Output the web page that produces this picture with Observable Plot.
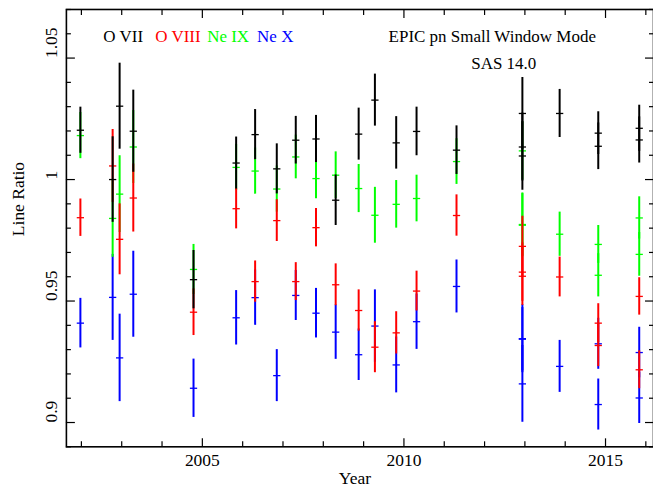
<!DOCTYPE html>
<html><head><meta charset="utf-8">
<script src="https://cdn.jsdelivr.net/npm/d3@7"></script>
<script src="https://cdn.jsdelivr.net/npm/@observablehq/plot@0.6"></script>
<style>
html,body{margin:0;padding:0;overflow:hidden;background:#fff;}
</style></head><body><div id="chart"></div>
<script>
// Observation epochs (decimal year)
const years = [2001.975, 2002.775, 2002.948, 2003.287, 2004.781, 2005.838, 2006.309, 2006.846,
  2007.317, 2007.819, 2008.307, 2008.877, 2009.280, 2009.808, 2010.313, 2011.304,
  2012.938, 2012.938, 2012.938, 2013.862, 2014.820, 2014.820, 2015.836, 2015.836];

const oviiVal = [1.0203, 1.0000, 1.0302, 1.0199, 0.9588, 1.0068, 1.0185, 1.0044,
  1.0162, 1.0167, 0.9915, 1.0187, 1.0327, 1.0151, 1.0198, 1.0121,
  1.0272, 1.0134, 1.0097, 1.0272, 1.0191, 1.0137, 1.0211, 1.0163];
const oviiErr = [0.0095, 0.0176, 0.0177, 0.0169, 0.0120, 0.0107, 0.0103, 0.0103,
  0.0098, 0.0097, 0.0104, 0.0107, 0.0107, 0.0108, 0.0100, 0.0100,
  0.0148, 0.0140, 0.0141, 0.0099, 0.0088, 0.0096, 0.0095, 0.0095];

const oviiiVal = [0.9843, 1.0056, 0.9754, 0.9924, 0.9454, 0.9880, 0.9580, 0.9831,
  0.9580, 0.9802, 0.9567, 0.9461, 0.9310, 0.9369, 0.9541, 0.9852,
  0.9725, 0.9619, 0.9602, 0.9599, 0.9409, 0.9317, 0.9519, 0.9217];
const oviiiErr = [0.0077, 0.0150, 0.0146, 0.0140, 0.0096, 0.0083, 0.0085, 0.0086,
  0.0078, 0.0079, 0.0086, 0.0085, 0.0105, 0.0087, 0.0082, 0.0085,
  0.0124, 0.0120, 0.0120, 0.0082, 0.0080, 0.0087, 0.0077, 0.0078];

const neixVal = [1.0181, 0.9840, 0.9940, 1.0134, 0.9630, 1.0050, 1.0035, 0.9961,
  1.0093, 1.0004, 1.0018, 0.9963, 0.9853, 0.9898, 0.9922, 1.0074,
  1.0118, 0.9812, 0.9815, 0.9775, 0.9733, 0.9606, 0.9842, 0.9692];
const neixErr = [0.0095, 0.0160, 0.0158, 0.0150, 0.0103, 0.0095, 0.0095, 0.0095,
  0.0090, 0.0083, 0.0096, 0.0099, 0.0115, 0.0098, 0.0096, 0.0094,
  0.0120, 0.0130, 0.0130, 0.0091, 0.0078, 0.0089, 0.0087, 0.0090];

const nexVal = [0.9409, 0.9515, 0.9266, 0.9528, 0.9141, 0.9431, 0.9514, 0.9193,
  0.9523, 0.9450, 0.9372, 0.9279, 0.9397, 0.9237, 0.9415, 0.9560,
  0.9345, 0.9159, 0.9343, 0.9231, 0.9324, 0.9074, 0.9288, 0.9101];
const nexErr = [0.0102, 0.0177, 0.0180, 0.0177, 0.0120, 0.0112, 0.0114, 0.0107,
  0.0103, 0.0102, 0.0112, 0.0106, 0.0149, 0.0115, 0.0114, 0.0109,
  0.0140, 0.0158, 0.0130, 0.0107, 0.0105, 0.0105, 0.0104, 0.0105];

const seriesNames = ["O VII", "O VIII", "Ne IX", "Ne X"];
const seriesColors = ["#000000", "#ff0000", "#00ff00", "#0000ff"];

const xMajorTicks = [2005, 2010, 2015];
const xMinorTicks = [2002, 2003, 2004, 2006, 2007, 2008, 2009, 2011, 2012, 2013, 2014, 2016];
const yMajorTicks = [0.9, 0.95, 1, 1.05];
const yMinorTicks = [0.89, 0.91, 0.92, 0.93, 0.94, 0.96, 0.97, 0.98, 0.99, 1.01, 1.02, 1.03, 1.04, 1.06, 1.07];

const xLabel = "Year";
const yLabel = "Line Ratio";
const noteLine1 = "EPIC pn Small Window Mode";
const noteLine2 = "SAS 14.0";

const seriesData = {
  "O VII": [oviiVal, oviiErr],
  "O VIII": [oviiiVal, oviiiErr],
  "Ne IX": [neixVal, neixErr],
  "Ne X": [nexVal, nexErr]
};

// drawing order: Ne X, Ne IX, O VIII, O VII (black on top)
const drawOrder = ["Ne X", "Ne IX", "O VIII", "O VII"];
const dataMarks = drawOrder.flatMap(name => {
  const [vals, errs] = seriesData[name];
  const rows = years.map((yr, i) => ({series: name, year: yr, v: vals[i], e: errs[i]}));
  return [
    Plot.ruleX(rows, {x: "year", y1: d => d.v - d.e, y2: d => d.v + d.e, stroke: "series", strokeWidth: 2}),
    Plot.link(rows, {x1: d => d.year - 0.09, x2: d => d.year + 0.09, y1: "v", y2: "v", stroke: "series", strokeWidth: 1.3})
  ];
});

const legendOffsets = [37, 89, 141, 191];

const chart = Plot.plot({
  width: 654,
  height: 488,
  marginLeft: 66,
  marginRight: 0,
  marginTop: 9,
  marginBottom: 41,
  x: {domain: [2001.628, 2016.19]},
  y: {domain: [0.89, 1.07]},
  color: {domain: seriesNames, range: seriesColors},
  style: {fontFamily: "'Liberation Serif', 'DejaVu Serif', serif", fontSize: "17.5px", background: "#fff", color: "#000"},
  marks: [
    ...dataMarks,
    Plot.axisX({anchor: "bottom", ticks: xMajorTicks, tickSize: -8, tickFormat: () => "", label: null, strokeWidth: 1.2}),
    Plot.axisX({anchor: "bottom", ticks: xMinorTicks, tickSize: -5, tickFormat: () => "", label: null, strokeWidth: 1.2}),
    Plot.axisX({anchor: "top", ticks: xMajorTicks, tickSize: -8, tickFormat: () => "", label: null, strokeWidth: 1.2}),
    Plot.axisX({anchor: "top", ticks: xMinorTicks, tickSize: -5, tickFormat: () => "", label: null, strokeWidth: 1.2}),
    Plot.axisY({anchor: "left", ticks: yMajorTicks, tickSize: -9, tickFormat: () => "", label: null, strokeWidth: 1.2}),
    Plot.axisY({anchor: "left", ticks: yMinorTicks, tickSize: -5, tickFormat: () => "", label: null, strokeWidth: 1.2}),
    Plot.axisY({anchor: "right", ticks: yMajorTicks, tickSize: -9, tickFormat: () => "", label: null, strokeWidth: 1.2}),
    Plot.axisY({anchor: "right", ticks: yMinorTicks, tickSize: -5, tickFormat: () => "", label: null, strokeWidth: 1.2}),
    Plot.frame({stroke: "#000", strokeWidth: 1.6}),
    Plot.text(xMajorTicks, {x: d => d, frameAnchor: "bottom", dy: 19, lineAnchor: "bottom", text: d => String(d), fill: "#000"}),
    Plot.text(yMajorTicks, {y: d => d, frameAnchor: "left", dx: -9, rotate: -90, lineAnchor: "bottom", text: d => String(d), fill: "#000"}),
    Plot.text([xLabel], {frameAnchor: "bottom", dx: -5, dy: 37, lineAnchor: "bottom", text: d => d, fill: "#000"}),
    Plot.text([yLabel], {frameAnchor: "left", dx: -42, dy: 8, rotate: -90, lineAnchor: "bottom", text: d => d, fill: "#000"}),
    ...seriesNames.map((name, i) => Plot.text([name], {frameAnchor: "top-left", dx: legendOffsets[i], dy: 33, lineAnchor: "bottom", textAnchor: "start", text: d => d, fill: seriesColors[i], fontSize: 17})),
    Plot.text([noteLine1], {frameAnchor: "top-left", dx: 426.5, dy: 33, lineAnchor: "bottom", textAnchor: "middle", text: d => d, fill: "#000", fontSize: 17}),
    Plot.text([noteLine2], {frameAnchor: "top-left", dx: 438, dy: 60, lineAnchor: "bottom", textAnchor: "middle", text: d => d, fill: "#000", fontSize: 17})
  ]
});
document.getElementById("chart").appendChild(chart);
</script>
</body></html>
